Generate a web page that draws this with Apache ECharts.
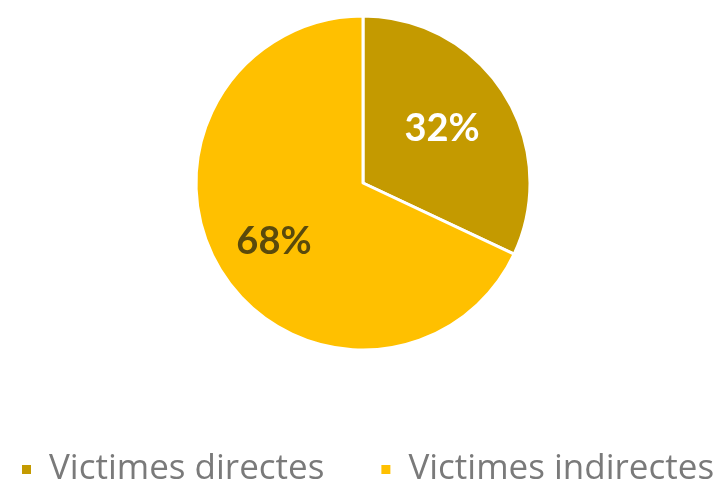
<!DOCTYPE html>
<html>
<head>
<meta charset="utf-8">
<script src="https://cdn.jsdelivr.net/npm/echarts@6/dist/echarts.min.js"></script>
<style>
html,body{margin:0;padding:0;background:#fff;}
#chart{width:719px;height:482px;}
</style>
</head>
<body>
<div id="chart"></div>
<script>
const categories = ["Victimes directes", "Victimes indirectes"];
const values = [32, 68];
const colors = ["#C49A00", "#FFC000"];
const labelColors = ["#FFFFFF", "#5A4A0C"];
const labelOffsets = [[6, -8], [-16, 12]];

const chart = echarts.init(document.getElementById('chart'));
chart.setOption({
  animation: false,
  color: colors,
  legend: {
    data: categories,
    left: 20,
    top: 452,
    padding: 0,
    icon: 'rect',
    itemWidth: 11,
    itemHeight: 11,
    itemGap: 55,
    textStyle: {
      fontFamily: 'Open Sans',
      fontSize: 35,
      color: '#7a7a7a',
      padding: [0, 0, 0, 12]
    }
  },
  series: [{
    type: 'pie',
    center: [363, 183],
    radius: 167,
    startAngle: 90,
    clockwise: true,
    itemStyle: { borderColor: '#ffffff', borderWidth: 3 },
    label: {
      show: true,
      position: 'inside',
      formatter: '{c}%',
      fontFamily: 'Lato',
      fontWeight: 'bold',
      fontSize: 38
    },
    labelLine: { show: false },
    emphasis: { disabled: true },
    data: categories.map((name, i) => ({
      name: name,
      value: values[i],
      label: { color: labelColors[i], offset: labelOffsets[i] }
    }))
  }]
});
</script>
</body>
</html>
